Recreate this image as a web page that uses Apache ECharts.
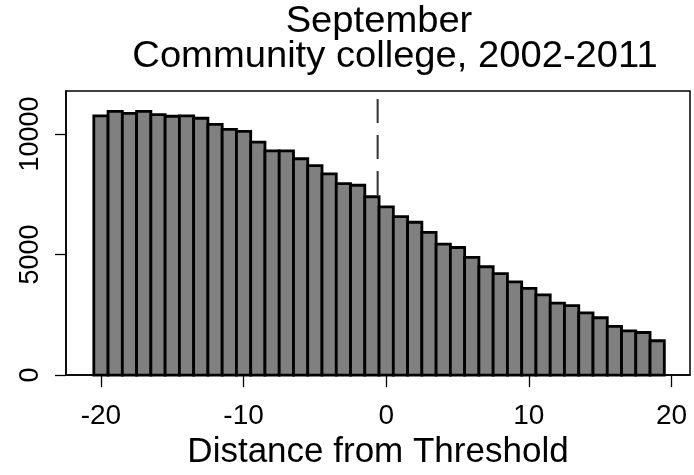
<!DOCTYPE html>
<html>
<head>
<meta charset="utf-8">
<script src="https://cdn.jsdelivr.net/npm/echarts@6/dist/echarts.min.js"></script>
<style>
  html, body { margin: 0; padding: 0; background: #fff; }
  #chart { width: 694px; height: 475px; }
</style>
</head>
<body>
<div id="chart"></div>
<script>
// Distance bins (running variable) and counts per bin
const distances = [-20, -19, -18, -17, -16, -15, -14, -13, -12, -11,
                   -10, -9, -8, -7, -6, -5, -4, -3, -2, -1,
                   0, 1, 2, 3, 4, 5, 6, 7, 8, 9,
                   10, 11, 12, 13, 14, 15, 16, 17, 18, 19];
const counts = [10745, 10936, 10855, 10936, 10802, 10733, 10745, 10651, 10395, 10191,
                10110, 9662, 9296, 9296, 8970, 8685, 8343, 7936, 7871, 7395,
                6976, 6569, 6337, 5917, 5429, 5291, 4884, 4493, 4208, 3866,
                3598, 3325, 2987, 2877, 2580, 2377, 2023, 1832, 1766, 1424];

// Axis ticks and the threshold marker
const xTicks = [-20, -10, 0, 10, 20];
const yTicks = [0, 5000, 10000];
const thresholdX = -0.6;

const titleLines = ['September', 'Community college, 2002-2011'];
const xTitle = 'Distance from Threshold';

const FONT = '"Liberation Sans", Arial, sans-serif';

const chart = echarts.init(document.getElementById('chart'), null, { renderer: 'canvas' });

const xMin = -22.45, xMax = 21.3, yMin = 0, yMax = 11780;

chart.setOption({
  animation: false,
  backgroundColor: '#fff',
  grid: {
    left: 66, right: 4, top: 91, bottom: 94,
    show: true, borderColor: '#000', borderWidth: 1.5, backgroundColor: '#fff'
  },
  graphic: [
    { type: 'text', x: 379, y: 4, scaleX: 1.06, style: { text: titleLines[0], font: '36px ' + FONT, fill: '#000', align: 'center', verticalAlign: 'top' } },
    { type: 'text', x: 395, y: 39, scaleX: 1.06, style: { text: titleLines[1], font: '36px ' + FONT, fill: '#000', align: 'center', verticalAlign: 'top' } }
  ],
  xAxis: {
    type: 'value', min: xMin, max: xMax,
    name: xTitle, nameLocation: 'middle', nameGap: 52,
    nameTextStyle: { fontFamily: FONT, fontSize: 35, color: '#000' },
    axisLine: { show: true, onZero: false, lineStyle: { color: '#000', width: 1.5 } },
    axisTick: { show: true, customValues: xTicks, length: 12, inside: false, lineStyle: { color: '#000', width: 1.3 } },
    axisLabel: { customValues: xTicks, fontFamily: FONT, fontSize: 28, color: '#000', margin: 27 },
    splitLine: { show: false }
  },
  yAxis: {
    type: 'value', min: yMin, max: yMax,
    axisLine: { show: true, onZero: false, lineStyle: { color: '#000', width: 1.5 } },
    axisTick: { show: true, customValues: yTicks, length: 11, inside: false, lineStyle: { color: '#000', width: 1.3 } },
    axisLabel: { customValues: yTicks, rotate: 90, fontFamily: FONT, fontSize: 27, color: '#000', margin: 22,
                 formatter: function (v) { return String(v); } },
    splitLine: { show: false }
  },
  series: [
    {
      // vertical dashed threshold line, drawn behind the bars
      type: 'line',
      data: [[thresholdX, yMin], [thresholdX, yMax]],
      symbol: 'none',
      lineStyle: { color: '#333', width: 2, type: [24, 12] },
      z: 1,
      silent: true
    },
    {
      type: 'custom',
      z: 2,
      data: distances.map((d, i) => [d, counts[i]]),
      renderItem: function (params, api) {
        const x = api.value(0);
        const v = api.value(1);
        const p0 = api.coord([x - 0.5, v]);
        const p1 = api.coord([x + 0.5, 0]);
        return {
          type: 'rect',
          shape: { x: p0[0], y: p0[1], width: p1[0] - p0[0], height: p1[1] - p0[1] },
          style: { fill: '#808080', stroke: '#000', lineWidth: 2.8 }
        };
      }
    }
  ]
});
</script>
</body>
</html>
